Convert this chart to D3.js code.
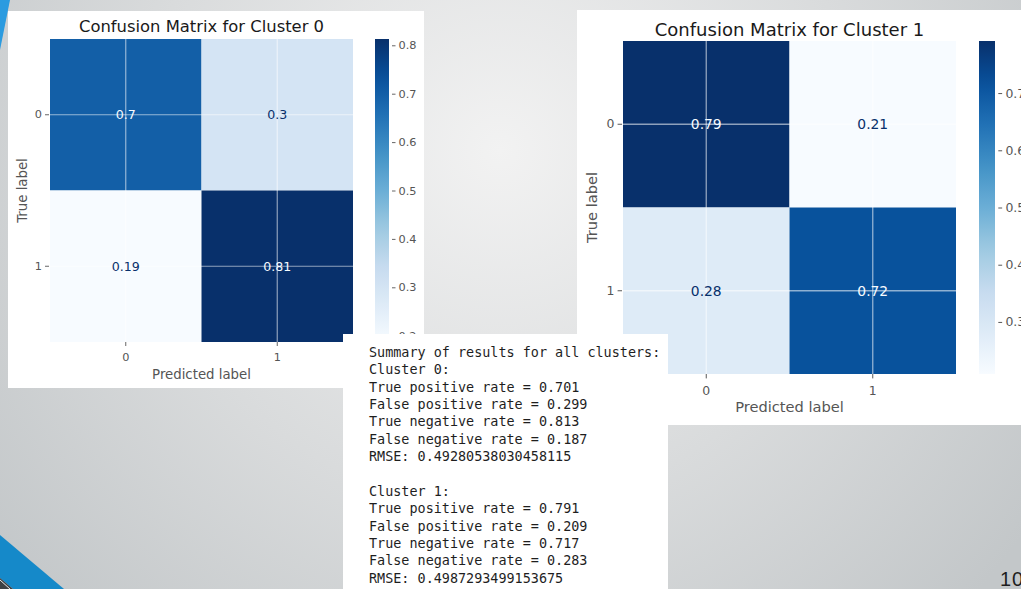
<!DOCTYPE html>
<html>
<head>
<meta charset="utf-8">
<script src="https://cdn.jsdelivr.net/npm/d3@7"></script>
<style>
  html, body { margin: 0; padding: 0; overflow: hidden; }
  svg { display: block; }
</style>
</head>
<body>
<svg id="slide" width="1021" height="589"></svg>
<script>
// ---- data ----
const classLabels = ["0", "1"];
const cluster0Matrix = [[0.701, 0.299], [0.187, 0.813]];
const cluster1Matrix = [[0.791, 0.209], [0.283, 0.717]];
const clusterTitles = ["Confusion Matrix for Cluster 0", "Confusion Matrix for Cluster 1"];
const cluster0ColorbarTicks = [0.2, 0.3, 0.4, 0.5, 0.6, 0.7, 0.8];
const cluster1ColorbarTicks = [0.3, 0.4, 0.5, 0.6, 0.7];
const rmseValues = [0.49280538030458115, 0.4987293499153675];
const bluesStops = ["#f7fbff", "#deebf7", "#c6dbef", "#9ecae1", "#6baed6",
                    "#4292c6", "#2171b5", "#08519c", "#08306b"];
const pageNumber = "10";

const W = 1021, H = 589;
const svg = d3.select("#slide");
const defs = svg.append("defs");

// ---- slide background ----
const bg = defs.append("radialGradient").attr("id", "bgGrad")
  .attr("gradientUnits", "userSpaceOnUse")
  .attr("cx", 500).attr("cy", 150).attr("r", 650);
bg.append("stop").attr("offset", 0).attr("stop-color", "#f2f2f2");
bg.append("stop").attr("offset", 0.55).attr("stop-color", "#d9dbdc");
bg.append("stop").attr("offset", 1).attr("stop-color", "#c3c7c9");
svg.append("rect").attr("width", W).attr("height", H).attr("fill", "url(#bgGrad)");

// decorative accents on the left edge
svg.append("polygon").attr("points", "0,0 10,0 0,50").attr("fill", "#2b9be0");
svg.append("polygon").attr("points", "0,535 64,589 13,589 0,578").attr("fill", "#1589c9");
svg.append("polygon").attr("points", "0,578 13,589 0,589").attr("fill", "#3d4246");
svg.append("line").attr("x1", 0).attr("y1", 580).attr("x2", 10).attr("y2", 589)
  .attr("stroke", "#e8e8e8").attr("stroke-width", 1);

// Matplotlib "Blues": linear interpolation between the ColorBrewer stops
const blues = d3.scaleLinear()
  .domain(bluesStops.map((_, i) => i / (bluesStops.length - 1)))
  .range(bluesStops)
  .interpolate(d3.interpolateRgb);

const fmtCell = d3.format(".2~g");
const FONT = "'DejaVu Sans', sans-serif";
const GREY = "#555555";

const panels = [
  { matrix: cluster0Matrix, title: clusterTitles[0], ticks: cluster0ColorbarTicks, k: 1,
    box: [8, 11, 416, 377], heat: [50, 39, 303], cbar: [375, 14],
    titleY: 32, xLabelY: 378.5, yLabelX: 22 },
  { matrix: cluster1Matrix, title: clusterTitles[1], ticks: cluster1ColorbarTicks, k: 1.1,
    box: [577, 10, 460, 415], heat: [623, 41, 333], cbar: [979, 16],
    titleY: 35.5, xLabelY: 412, yLabelX: 592 }
];

panels.forEach((p, pi) => {
  const k = p.k;
  const g = svg.append("g");
  g.append("rect").attr("x", p.box[0]).attr("y", p.box[1])
    .attr("width", p.box[2]).attr("height", p.box[3]).attr("fill", "#ffffff");

  const [hx, hy, hs] = p.heat;
  const x = d3.scaleBand().domain(classLabels).range([hx, hx + hs]);
  const y = d3.scaleBand().domain(classLabels).range([hy, hy + hs]);

  const flat = p.matrix.flat();
  const vmin = d3.min(flat), vmax = d3.max(flat);
  const norm = d3.scaleLinear().domain([vmin, vmax]).range([0, 1]).clamp(true);
  const color = v => blues(norm(v));
  const thresh = (vmin + vmax) / 2;

  const cells = [];
  p.matrix.forEach((row, i) => row.forEach((v, j) =>
    cells.push({ t: classLabels[i], pr: classLabels[j], v })));

  g.selectAll("rect.cell").data(cells).join("rect").attr("class", "cell")
    .attr("x", d => x(d.pr)).attr("y", d => y(d.t))
    .attr("width", x.bandwidth()).attr("height", y.bandwidth())
    .attr("fill", d => color(d.v));

  // white grid lines at the tick positions
  classLabels.forEach(c => {
    const cx = x(c) + x.bandwidth() / 2, cy = y(c) + y.bandwidth() / 2;
    g.append("line").attr("x1", cx).attr("x2", cx).attr("y1", hy).attr("y2", hy + hs)
      .attr("stroke", "#ffffff").attr("stroke-width", 1.2 * k).attr("stroke-opacity", 0.55);
    g.append("line").attr("x1", hx).attr("x2", hx + hs).attr("y1", cy).attr("y2", cy)
      .attr("stroke", "#ffffff").attr("stroke-width", 1.2 * k).attr("stroke-opacity", 0.55);
  });

  g.selectAll("text.val").data(cells).join("text").attr("class", "val")
    .attr("x", d => x(d.pr) + x.bandwidth() / 2)
    .attr("y", d => y(d.t) + y.bandwidth() / 2)
    .attr("dy", "0.36em")
    .attr("text-anchor", "middle")
    .attr("font-family", FONT).attr("font-size", 12.6 * k)
    .attr("fill", d => d.v > thresh ? bluesStops[0] : bluesStops[8])
    .text(d => fmtCell(d.v));

  // axes
  const styleAxis = sel => {
    sel.select(".domain").remove();
    sel.selectAll(".tick line").attr("stroke", GREY).attr("stroke-width", 0.9 * k);
    sel.selectAll(".tick text").attr("fill", GREY)
      .attr("font-family", FONT).attr("font-size", 11.3 * k);
  };
  g.append("g").attr("transform", `translate(${hx - 1},0)`)
    .call(d3.axisLeft(y).tickSize(4 * k).tickPadding(3 * k)).call(styleAxis);
  g.append("g").attr("transform", `translate(0,${hy + hs})`)
    .call(d3.axisBottom(x).tickSize(4 * k).tickPadding(7 * k)).call(styleAxis);

  // titles and axis labels
  g.append("text").attr("x", hx + hs / 2).attr("y", p.titleY)
    .attr("text-anchor", "middle").attr("font-family", FONT)
    .attr("font-size", 16.4 * k).attr("fill", "#1a1a1a").text(p.title);
  g.append("text").attr("x", hx + hs / 2).attr("y", p.xLabelY)
    .attr("text-anchor", "middle").attr("font-family", FONT)
    .attr("font-size", 13.3 * k).attr("fill", GREY).text("Predicted label");
  g.append("text")
    .attr("transform", `translate(${p.yLabelX},${hy + hs / 2}) rotate(-90)`)
    .attr("dy", "0.36em").attr("text-anchor", "middle").attr("font-family", FONT)
    .attr("font-size", 13.3 * k).attr("fill", GREY).text("True label");

  // colorbar
  const [cx0, cw] = p.cbar;
  const cbScale = d3.scaleLinear().domain([vmin, vmax]).range([hy + hs, hy]);
  const gid = "cbGrad" + pi;
  const lg = defs.append("linearGradient").attr("id", gid)
    .attr("x1", 0).attr("y1", 1).attr("x2", 0).attr("y2", 0);
  d3.range(0, 1.0001, 0.05).forEach(t =>
    lg.append("stop").attr("offset", t).attr("stop-color", blues(t)));
  g.append("rect").attr("x", cx0).attr("y", hy).attr("width", cw).attr("height", hs)
    .attr("fill", `url(#${gid})`);
  g.append("g").attr("transform", `translate(${cx0 + cw + 3 * k},0)`)
    .call(d3.axisRight(cbScale).tickValues(p.ticks).tickSize(3.5 * k).tickPadding(3 * k)
      .tickFormat(d3.format(".1f")))
    .call(styleAxis);
});

// ---- summary text box ----
const summaryLines = ["Summary of results for all clusters:"];
[cluster0Matrix, cluster1Matrix].forEach((m, i) => {
  const f3 = d3.format(".3f");
  if (i > 0) summaryLines.push("");
  summaryLines.push(`Cluster ${i}:`);
  summaryLines.push(`True positive rate = ${f3(m[0][0])}`);
  summaryLines.push(`False positive rate = ${f3(m[0][1])}`);
  summaryLines.push(`True negative rate = ${f3(m[1][1])}`);
  summaryLines.push(`False negative rate = ${f3(m[1][0])}`);
  summaryLines.push(`RMSE: ${String(rmseValues[i])}`);
});

const tb = svg.append("g");
tb.append("rect").attr("x", 343).attr("y", 334).attr("width", 325).attr("height", 260)
  .attr("fill", "#ffffff");
tb.selectAll("text").data(summaryLines).join("text")
  .attr("x", 369).attr("y", (d, i) => 357 + i * 17.35)
  .attr("font-family", "'DejaVu Sans Mono', monospace").attr("font-size", 13.45)
  .attr("fill", "#1e1e1e")
  .attr("xml:space", "preserve")
  .text(d => d);

// ---- page number ----
svg.append("text").attr("x", 1000).attr("y", 586)
  .attr("font-family", "'Liberation Sans', sans-serif").attr("font-size", 20)
  .attr("letter-spacing", 1)
  .attr("fill", "#1e1e1e").text(pageNumber);
</script>
</body>
</html>
